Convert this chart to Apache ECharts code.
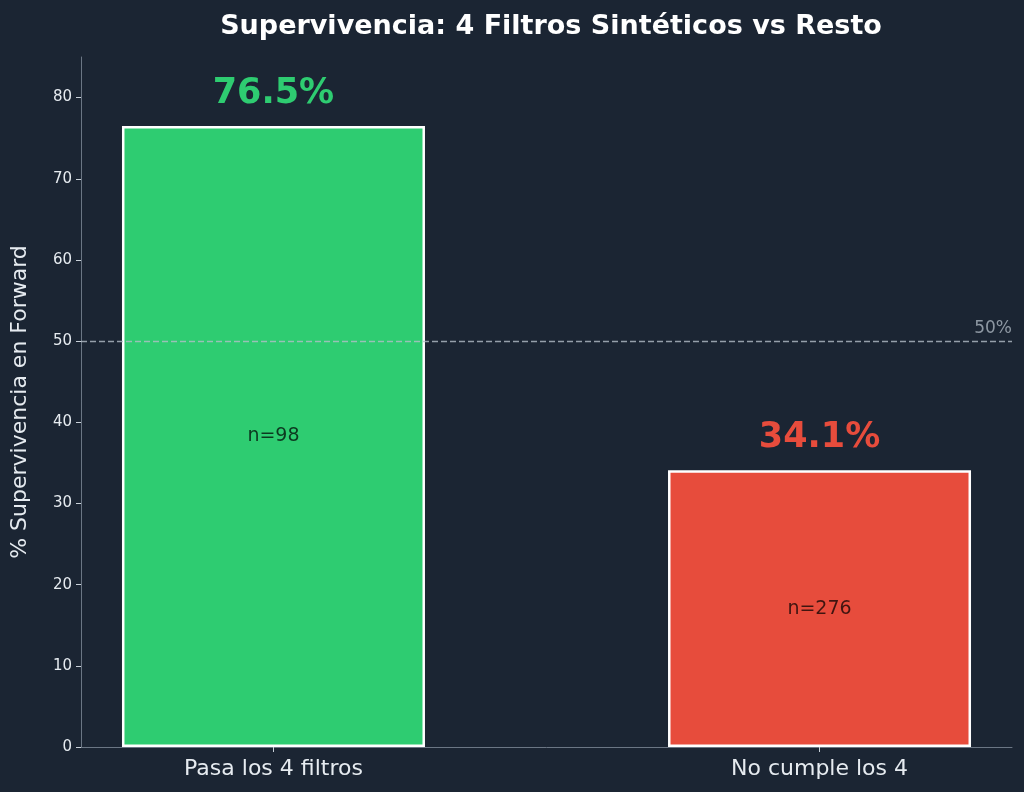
<!DOCTYPE html>
<html>
<head>
<meta charset="utf-8">
<script src="https://cdn.jsdelivr.net/npm/echarts@6/dist/echarts.min.js"></script>
<style>
  html, body { margin: 0; padding: 0; background: #1b2533; }
  #chart { width: 1024px; height: 792px; }
</style>
</head>
<body>
<div id="chart"></div>
<script>
const categories = ['Pasa los 4 filtros', 'No cumple los 4'];
const survival = [76.5, 34.1];
const counts = [98, 276];
const barColors = ['#2ecc71', '#e74c3c'];
const yTicks = [0, 10, 20, 30, 40, 50, 60, 70, 80];
const threshold = 50;

const font = 'DejaVu Sans, sans-serif';
const chart = echarts.init(document.getElementById('chart'), null, { renderer: 'canvas' });

chart.setOption({
  backgroundColor: '#1b2533',
  animation: false,
  title: {
    text: 'Supervivencia: 4 Filtros Sintéticos vs Resto',
    left: 546, top: 8, textAlign: 'center',
    textStyle: { color: '#ffffff', fontFamily: font, fontWeight: 'bold', fontSize: 27 }
  },
  grid: { left: 81, right: 12, top: 57, bottom: 45 },
  xAxis: {
    type: 'value', min: -0.3525, max: 1.3525,
    axisLine: { show: true, onZero: false, lineStyle: { color: '#6b7684', width: 1 } },
    axisTick: { show: true, customValues: [0, 1], length: 5, lineStyle: { color: '#c9d1d9' } },
    axisLabel: {
      customValues: [0, 1], margin: 11,
      formatter: v => categories[Math.round(v)] || '',
      color: '#e6ebf0', fontFamily: font, fontSize: 22
    },
    splitLine: { show: false }
  },
  yAxis: {
    type: 'value', min: 0, max: 85,
    axisLine: { show: true, onZero: false, lineStyle: { color: '#6b7684', width: 1 } },
    axisTick: { show: true, customValues: yTicks, length: 5, lineStyle: { color: '#c9d1d9' } },
    axisLabel: {
      customValues: yTicks, margin: 9,
      color: '#e6ebf0', fontFamily: font, fontSize: 15
    },
    splitLine: { show: false },
    name: '% Supervivencia en Forward',
    nameLocation: 'middle', nameGap: 50,
    nameTextStyle: { color: '#e6ebf0', fontFamily: font, fontSize: 22 }
  },
  series: [
    {
      type: 'bar',
      barWidth: 303,
      barGap: '-100%',
      z: 2,
      data: survival.map((v, i) => ({
        value: [i, v],
        itemStyle: { color: barColors[i], borderColor: '#ffffff', borderWidth: 2.5 },
        label: { color: barColors[i] }
      })),
      label: {
        show: true, position: 'top', distance: 15,
        formatter: p => p.value[1].toFixed(1) + '%',
        fontFamily: font, fontWeight: 'bold', fontSize: 35
      },
      markLine: {
        symbol: 'none', silent: true,
        lineStyle: { color: '#b4bec8', type: [6, 3], width: 1.3, opacity: 0.8 },
        label: {
          show: true, position: 'insideEndTop', formatter: '50%',
          color: '#aab4be', fontFamily: font, fontSize: 17, distance: [0, 4]
        },
        data: [{ yAxis: threshold }]
      }
    },
    {
      type: 'bar',
      barWidth: 303,
      barGap: '-100%',
      z: 3,
      itemStyle: { color: 'rgba(0,0,0,0)' },
      data: survival.map((v, i) => ({ value: [i, v] })),
      label: {
        show: true, position: 'inside',
        formatter: p => 'n=' + counts[p.dataIndex],
        color: 'rgba(0,0,0,0.72)', fontFamily: font, fontSize: 19
      }
    }
  ]
});
</script>
</body>
</html>
